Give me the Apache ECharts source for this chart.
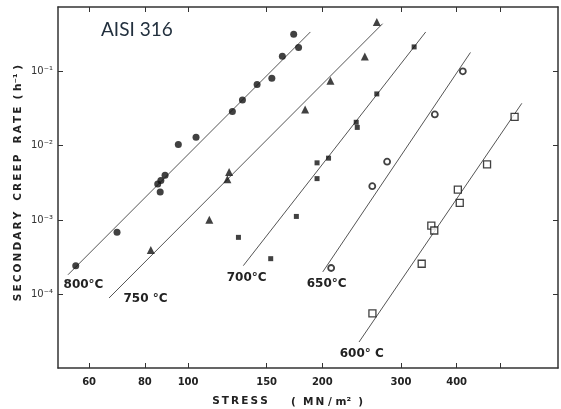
<!DOCTYPE html>
<html>
<head>
<meta charset="utf-8">
<script src="https://cdn.jsdelivr.net/npm/echarts@6/dist/echarts.min.js"></script>
<style>
html,body{margin:0;padding:0;background:#fff;}
#chart{width:561px;height:409px;}
</style>
</head>
<body>
<div id="chart"></div>
<script>
// ---- data (stress in MN/m^2, creep rate in h^-1) ----
const stress800 = [56, 69.3, 85.5, 86.9, 88.8, 86.6, 95.1, 104.2, 125.7, 132.4, 142.8, 154.1, 162.7, 172.5, 176.9];
const rate800   = [2.45e-4, 6.9e-4, 3.05e-3, 3.4e-3, 3.98e-3, 2.38e-3, 1.03e-2, 1.29e-2, 2.85e-2, 4.08e-2, 6.6e-2, 8.0e-2, 0.157, 0.31, 0.207];

const stress750 = [82.5, 111.6, 122.5, 123.6, 183, 208.5, 249, 264.9];
const rate750   = [3.98e-4, 1.01e-3, 3.52e-3, 4.42e-3, 3.05e-2, 7.41e-2, 0.156, 0.454];

const stress700 = [129.7, 153.2, 174.9, 194.6, 194.6, 206.5, 238.2, 239.5, 264.9, 321.2];
const rate700   = [5.87e-4, 3.04e-4, 1.12e-3, 5.86e-3, 3.6e-3, 6.77e-3, 2.05e-2, 1.75e-2, 4.92e-2, 0.21];

const stress650 = [209.3, 258.8, 279.4, 357.4, 413];
const rate650   = [2.28e-4, 2.85e-3, 6.08e-3, 2.61e-2, 9.88e-2];

const stress600 = [259, 334, 351, 356.4, 402.5, 406.5, 468, 539.5];
const rate600   = [5.6e-5, 2.6e-4, 8.42e-4, 7.26e-4, 2.56e-3, 1.70e-3, 5.59e-3, 2.42e-2];

// fitted lines: end points [stress], [rate]
const fit800Stress = [53.8, 188];   const fit800Rate = [1.85e-4, 0.333];
const fit750Stress = [66.5, 273];   const fit750Rate = [9.03e-5, 0.43];
const fit700Stress = [133, 341];    const fit700Rate = [2.45e-4, 0.333];
const fit650Stress = [200.4, 429.6];const fit650Rate = [2.02e-4, 0.177];
const fit600Stress = [241.7, 560];  const fit600Rate = [2.32e-5, 3.68e-2];

// axis ticks
const xTickValues  = [60, 80, 100, 150, 200, 300, 400, 500];
const xLabelValues = [60, 80, 100, 150, 200, 300, 400];
const yTickValues  = [1e-4, 1e-3, 1e-2, 1e-1];
const xRange = [51.1, 675];
const yRange = [1.04e-5, 0.72];

const tempLabels = ['800°C', '750 °C', '700°C', '650°C', '600° C'];

// ---- build ----
function pairs(xs, ys){ return xs.map((x, i) => [x, ys[i]]); }
const sup = {'-':'⁻','0':'⁰','1':'¹','2':'²','3':'³','4':'⁴','5':'⁵','6':'⁶','7':'⁷','8':'⁸','9':'⁹'};
function powLabel(v){
  const e = Math.round(Math.log10(v));
  return '10' + String(e).split('').map(c => sup[c]).join('');
}
function spaced(s, sp){ return s.split('').join(sp); }

const axisColor = '#333';
const tickFont = 'DejaVu Sans';

const lineStyle = {color: '#555', width: 1};
function fitSeries(xs, ys){
  return {type: 'line', data: pairs(xs, ys), symbol: 'none', lineStyle: lineStyle,
          silent: true, animation: false, z: 1};
}

const chart = echarts.init(document.getElementById('chart'), null, {renderer: 'canvas'});
const option = {
  animation: false,
  backgroundColor: '#fff',
  grid: {left: 58, right: 3, top: 7, bottom: 41, containLabel: false, outerBoundsMode: 'none'},
  xAxis: [
    {
      type: 'log', min: xRange[0], max: xRange[1], position: 'bottom',
      axisLine: {show: true, lineStyle: {color: axisColor, width: 1.5}},
      axisTick: {show: true, inside: true, length: 5, customValues: xTickValues, lineStyle: {color: axisColor, width: 1}},
      axisLabel: {show: true, customValues: xLabelValues, margin: 9,
                  fontFamily: tickFont, fontWeight: 'bold', fontSize: 10, color: '#222',
                  formatter: v => String(Math.round(v))},
      splitLine: {show: false}, minorTick: {show: false}
    },
    {
      type: 'log', min: xRange[0], max: xRange[1], position: 'top',
      axisLine: {show: true, lineStyle: {color: axisColor, width: 1.5}},
      axisTick: {show: true, inside: true, length: 5, customValues: xTickValues, lineStyle: {color: axisColor, width: 1}},
      axisLabel: {show: false}, splitLine: {show: false}
    }
  ],
  yAxis: [
    {
      type: 'log', min: yRange[0], max: yRange[1], position: 'left',
      axisLine: {show: true, lineStyle: {color: axisColor, width: 1.5}},
      axisTick: {show: true, inside: true, length: 5, customValues: yTickValues, lineStyle: {color: axisColor, width: 1}},
      axisLabel: {show: true, customValues: yTickValues, margin: 5,
                  fontFamily: tickFont, fontSize: 10, color: '#333',
                  formatter: v => powLabel(v)},
      splitLine: {show: false}
    },
    {
      type: 'log', min: yRange[0], max: yRange[1], position: 'right',
      axisLine: {show: true, lineStyle: {color: axisColor, width: 1.5}},
      axisTick: {show: true, inside: true, length: 5, customValues: yTickValues, lineStyle: {color: axisColor, width: 1}},
      axisLabel: {show: false}, splitLine: {show: false}
    }
  ],
  series: [
    fitSeries(fit800Stress, fit800Rate),
    fitSeries(fit750Stress, fit750Rate),
    fitSeries(fit700Stress, fit700Rate),
    fitSeries(fit650Stress, fit650Rate),
    fitSeries(fit600Stress, fit600Rate),
    {type: 'scatter', name: '800°C', data: pairs(stress800, rate800), symbol: 'circle', symbolSize: 7,
     itemStyle: {color: '#111'}, z: 3},
    {type: 'scatter', name: '750°C', data: pairs(stress750, rate750), symbol: 'triangle', symbolSize: 8,
     itemStyle: {color: '#111'}, z: 3},
    {type: 'scatter', name: '700°C', data: pairs(stress700, rate700), symbol: 'rect', symbolSize: 5,
     itemStyle: {color: '#111'}, z: 3},
    {type: 'scatter', name: '650°C', data: pairs(stress650, rate650), symbol: 'circle', symbolSize: 6,
     itemStyle: {color: '#fff', borderColor: '#111', borderWidth: 1.8}, z: 3},
    {type: 'scatter', name: '600°C', data: pairs(stress600, rate600), symbol: 'rect', symbolSize: 7,
     itemStyle: {color: '#fff', borderColor: '#111', borderWidth: 1.3}, z: 3}
  ],
  graphic: [
    {type: 'text', left: 101, top: 20, style: {text: 'AISI 316', font: '19px Lato, "Open Sans", sans-serif', fill: '#22303e'}},
    {type: 'text', x: 18, y: 183, rotation: Math.PI / 2,
     style: {text: spaced('SECONDARY', '\u2009') + '   ' + spaced('CREEP', '\u2009') + '   ' + spaced('RATE', '\u2009') + '  ( h⁻¹ )',
             font: 'bold 10.5px "DejaVu Sans"', fill: '#222', align: 'center', verticalAlign: 'middle'}},
    {type: 'text', x: 240, y: 401,
     style: {text: spaced('STRESS', '\u2009'),
             font: 'bold 10.5px "DejaVu Sans"', fill: '#222', align: 'center', verticalAlign: 'middle'}},
    {type: 'text', x: 327, y: 402,
     style: {text: '(  ' + spaced('MN', '\u2009') + ' / m²  )',
             font: 'bold 10.5px "DejaVu Sans"', fill: '#222', align: 'center', verticalAlign: 'middle'}},
    {type: 'text', x: 83.5, y: 285, style: {text: tempLabels[0], font: 'bold 12px "DejaVu Sans"', fill: '#222', align: 'center', verticalAlign: 'middle'}},
    {type: 'text', x: 145.5, y: 298.5, style: {text: tempLabels[1], font: 'bold 12px "DejaVu Sans"', fill: '#222', align: 'center', verticalAlign: 'middle'}},
    {type: 'text', x: 246.7, y: 278.3, style: {text: tempLabels[2], font: 'bold 12px "DejaVu Sans"', fill: '#222', align: 'center', verticalAlign: 'middle'}},
    {type: 'text', x: 326.7, y: 284, style: {text: tempLabels[3], font: 'bold 12px "DejaVu Sans"', fill: '#222', align: 'center', verticalAlign: 'middle'}},
    {type: 'text', x: 361.7, y: 354, style: {text: tempLabels[4], font: 'bold 12px "DejaVu Sans"', fill: '#222', align: 'center', verticalAlign: 'middle'}}
  ]
};
chart.setOption(option);
</script>
</body>
</html>
